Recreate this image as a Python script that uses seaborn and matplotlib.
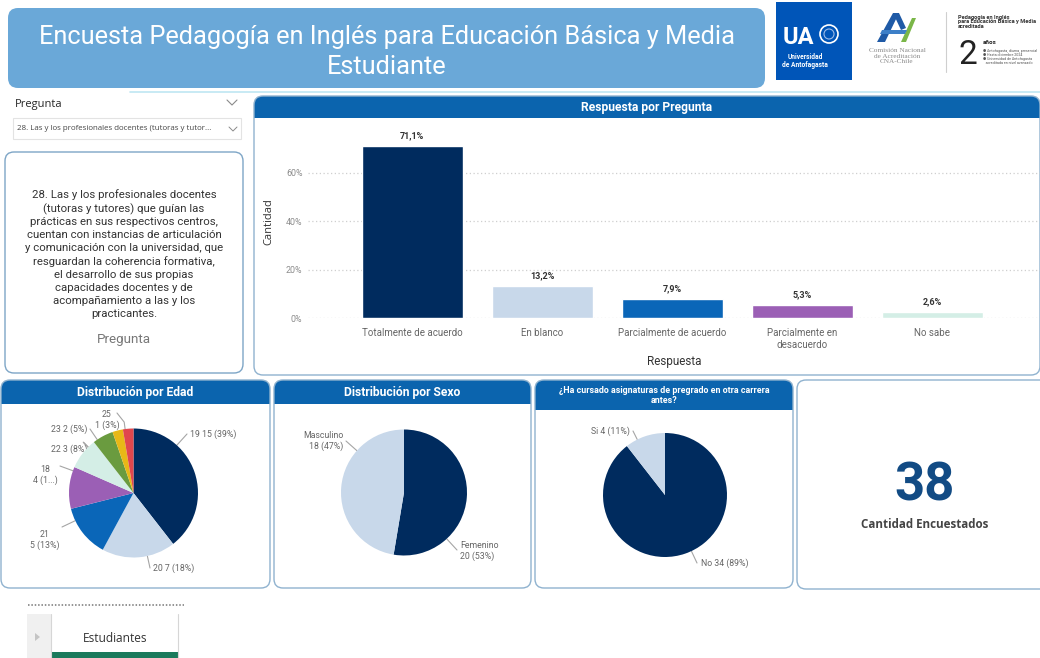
import numpy as np
import pandas as pd
import seaborn as sns
import matplotlib.pyplot as plt
from matplotlib.patches import FancyBboxPatch, Rectangle, Polygon, Circle

#%% Datos
respuestas = ['Totalmente de acuerdo', 'En blanco', 'Parcialmente de acuerdo',
              'Parcialmente en\ndesacuerdo', 'No sabe']
porcentajes = [71.1, 13.2, 7.9, 5.3, 2.6]
colores_resp = ['#002b5e', '#c8d8ea', '#0a66b8', '#9b5fb5', '#d4eee6']

edades = ['19', '20', '21', '18', '22', '23', '24', '25']
edad_cantidad = [15, 7, 5, 4, 3, 2, 1, 1]
edad_etiquetas = ['19 15 (39%)', '20 7 (18%)', '21\n5 (13%)', '18\n4 (1...)',
                  '22 3 (8%)', '23 2 (5%)', '', '25\n1 (3%)']
colores_edad = ['#002b5e', '#c8d8ea', '#0a66b8', '#9b5fb5', '#d4eee6',
                '#6a9b3f', '#e8b817', '#e1474d']

sexos = ['Femenino', 'Masculino']
sexo_cantidad = [20, 18]
sexo_etiquetas = ['Femenino\n20 (53%)', 'Masculino\n18 (47%)']
colores_sexo = ['#002b5e', '#c8d8ea']

carrera = ['No', 'Si']
carrera_cantidad = [34, 4]
carrera_etiquetas = ['No 34 (89%)', 'Si 4 (11%)']
colores_carrera = ['#002b5e', '#c8d8ea']

total_encuestados = 38
pregunta = ('28. Las y los profesionales docentes\n(tutoras y tutores) que guían las\n'
            'prácticas en sus respectivos centros,\ncuentan con instancias de articulación\n'
            'y comunicación con la universidad, que\nresguardan la coherencia formativa,\n'
            'el desarrollo de sus propias\ncapacidades docentes y de\n'
            'acompañamiento a las y los\npracticantes.')
pregunta_corta = '28. Las y los profesionales docentes (tutoras y tutor...'

#%% Estilo
sns.set_theme(style='white')
plt.rcParams['font.family'] = ['Roboto', 'DejaVu Sans']
SEGOE = ['Open Sans', 'DejaVu Sans']
AZUL = '#0b64ae'
BORDE = '#8fb2cf'

W, H = 1040, 658
fig = plt.figure(figsize=(W / 100, H / 100), dpi=100)
fig.patch.set_facecolor('white')


def caja(x0, y0, x1, y1):
    return [x0 / W, 1 - y1 / H, (x1 - x0) / W, (y1 - y0) / H]


bg = fig.add_axes([0, 0, 1, 1], zorder=0)
bg.set_xlim(0, W)
bg.set_ylim(H, 0)
bg.set_autoscale_on(False)
bg.axis('off')


def panel(x0, y0, x1, y1, titulo=None, alto=0, tam=8.7, borde=BORDE):
    bg.add_patch(FancyBboxPatch((x0, y0), x1 - x0, y1 - y0,
                                boxstyle='round,pad=0,rounding_size=9',
                                fc='white', ec='none', zorder=1))
    if titulo:
        bg.add_patch(FancyBboxPatch((x0, y0), x1 - x0, alto,
                                    boxstyle='round,pad=0,rounding_size=9',
                                    fc=AZUL, ec='none', zorder=2))
        bg.add_patch(Rectangle((x0, y0 + alto - 9), x1 - x0, 9, fc=AZUL, ec='none', zorder=2))
        bg.text((x0 + x1) / 2, y0 + alto / 2 + 0.5, titulo, ha='center', va='center',
                color='white', fontsize=tam, fontweight='bold', zorder=3, linespacing=1.1)
    bg.add_patch(FancyBboxPatch((x0, y0), x1 - x0, y1 - y0,
                                boxstyle='round,pad=0,rounding_size=9',
                                fc='none', ec=borde, lw=1, zorder=3))


#%% Encabezado
bg.add_patch(FancyBboxPatch((8, 8), 757, 80, boxstyle='round,pad=0,rounding_size=10',
                            fc='#6aa8d8', ec='none', zorder=1))
bg.text(387, 52, 'Encuesta Pedagogía en Inglés para Educación Básica y Media\nEstudiante',
        ha='center', va='center', color='white', fontsize=18.3, linespacing=1.3, zorder=2)

# logo UA
bg.add_patch(Rectangle((776, 2), 76, 78, fc='#0055b8', ec='none', zorder=1))
bg.text(798, 37, 'UA', ha='center', va='center', color='white', fontsize=17,
        fontweight='bold', zorder=2)
bg.add_patch(Circle((829, 34), 9, fc='none', ec='white', lw=1.2, zorder=2))
bg.add_patch(Circle((829, 34), 5, fc='none', ec='#9dbbe6', lw=0.8, zorder=2))
bg.text(805, 61, 'Universidad\nde Antofagasta', ha='center', va='center', color='white',
        fontsize=4.8, fontweight='bold', linespacing=1.0, zorder=2)

# logo CNA
bg.add_patch(Polygon([[877, 42], [893, 13], [899, 13], [885, 42]], fc='#1f5aa6', ec='none', zorder=2))
bg.add_patch(Polygon([[893, 13], [899, 13], [906, 28], [901, 30]], fc='#1f5aa6', ec='none', zorder=2))
bg.add_patch(Polygon([[901, 42], [912, 18], [916, 18], [906, 42]], fc='#7ab648', ec='none', zorder=2))
bg.add_patch(Polygon([[882, 30], [907, 30], [905, 34], [880, 34]], fc='#3d7fc8', ec='none', zorder=2))
bg.text(897, 56, 'Comisión Nacional\nde Acreditación\nCNA-Chile', ha='center', va='center',
        color='#8a8a8a', fontsize=5.2, linespacing=1.05, zorder=2, family=['Liberation Serif', 'DejaVu Serif'])

# acreditación
bg.plot([946, 946], [12, 72], color='#cfcfcf', lw=0.8, zorder=2)
bg.text(958, 22, 'Pedagogía en Inglés\npara Educación Básica y Media\nacreditada', ha='left',
        va='center', color='#333333', fontsize=4.1, fontweight='bold', linespacing=1.0, zorder=2)
bg.text(958, 55, '2', ha='left', va='center', color='#222222', fontsize=24, zorder=2)
bg.text(983, 42, 'años', ha='left', va='center', color='#222222', fontsize=4.5,
        fontweight='bold', zorder=2)
bg.text(983, 57, '● Antofagasta, diurna, presencial\n● Hasta diciembre 2024\n'
        '● Universidad de Antofagasta\n   acreditada en nivel avanzado', ha='left',
        va='center', color='#555555', fontsize=2.6, linespacing=1.1, zorder=2)

bg.plot([130, 1040], [92, 92], color='#bfe6f2', lw=1.2, zorder=1)

#%% Segmentador de pregunta
bg.text(15, 104, 'Pregunta', ha='left', va='center', color='#252525', fontsize=8, family=SEGOE)
bg.plot([227, 232, 237], [100, 105, 100], color='#8a8a8a', lw=0.8)
bg.add_patch(Rectangle((13, 118), 228, 21, fc='white', ec='#e3e3e3', lw=0.8, zorder=1))
bg.text(17, 129, pregunta_corta, ha='left', va='center', color='#444444', fontsize=5.7,
        zorder=2, family=SEGOE)
bg.plot([229, 233, 237], [127, 131, 127], color='#8a8a8a', lw=0.7, zorder=2)

panel(5, 152, 243, 373, borde='#7da5c6')
bg.text(124, 254, pregunta, ha='center', va='center', color='#333333', fontsize=8.2,
        linespacing=1.36, zorder=4)
bg.text(124, 340, 'Pregunta', ha='center', va='center', color='#777777', fontsize=9.6, zorder=4)

#%% Barras: Respuesta por Pregunta
panel(254, 96, 1040, 375, 'Respuesta por Pregunta', alto=22)
df_resp = pd.DataFrame({'Respuesta': respuestas, 'Porcentaje': porcentajes})
axb = fig.add_axes(caja(308, 125, 1040, 318), zorder=5)
axb.patch.set_alpha(0)
sns.barplot(data=df_resp, x='Respuesta', y='Porcentaje', hue='Respuesta',
            palette=colores_resp, width=0.777, saturation=1, legend=False, ax=axb)
axb.set_xlim(-0.8, 4.83)
axb.set_ylim(0, 79.6)
axb.set_yticks([0, 20, 40, 60])
axb.set_yticklabels(['0%', '20%', '40%', '60%'])
axb.yaxis.grid(True, color='#cfcfcf', linestyle=(0, (1, 2)), lw=0.9)
axb.set_axisbelow(True)
for s in axb.spines.values():
    s.set_visible(False)
axb.tick_params(axis='y', length=0, pad=4, labelsize=6.4, labelcolor='#8c8c8c')
axb.tick_params(axis='x', length=0, pad=7.5, labelsize=7, labelcolor='#666666')
for cont, v in zip(axb.containers, porcentajes):
    axb.bar_label(cont, labels=[f'{v:.1f}%'.replace('.', ',')], padding=4,
                  fontsize=6.5, fontweight='bold', color='#333333')
axb.set_xlabel('Respuesta', fontsize=8.4, color='#333333')
axb.xaxis.set_label_coords(0.5, -0.19)
axb.set_ylabel('Cantidad', fontsize=8, color='#333333', family=SEGOE)
axb.yaxis.set_label_coords(-0.046, 0.5)


#%% Tortas
def pastel(cx, cy, r, valores, colores, etiquetas, posiciones):
    ax = fig.add_axes(caja(cx - r, cy - r, cx + r, cy + r), zorder=5)
    cunas, _ = ax.pie(valores, colors=colores, startangle=90, counterclock=False,
                      wedgeprops=dict(linewidth=0))
    ax.set_xlim(-1, 1)
    ax.set_ylim(-1, 1)
    ax.axis('off')
    for cuna, texto, pos in zip(cunas, etiquetas, posiciones):
        if not texto:
            continue
        ex, ey, tx, ty, ha = pos
        ang = np.degrees(np.arctan2(cy - ey, ex - cx))
        medio = (cuna.theta1 + cuna.theta2) / 2
        ang = (ang - medio + 180) % 360 - 180 + medio
        ang = np.clip(ang, cuna.theta1 + 2, cuna.theta2 - 2)
        a = np.radians(ang)
        x0, y0 = cx + r * np.cos(a), cy - r * np.sin(a)
        x1, y1 = cx + (r + 7) * np.cos(a), cy - (r + 7) * np.sin(a)
        bg.plot([x0, x1, ex], [y0, y1, ey], color='#a5a5a5', lw=0.8, zorder=4)
        bg.text(tx, ty, texto, ha=ha, va='center', color='#666666', fontsize=6.3,
                multialignment='center' if ha == 'center' else ha, linespacing=1.25, zorder=4)


panel(1, 380, 270, 588, 'Distribución por Edad', alto=24)
pastel(133.5, 493, 64.5, edad_cantidad, colores_edad, edad_etiquetas,
       [(187, 434, 190, 434, 'left'), (150, 568, 153, 568, 'left'),
        (62, 527, 45, 540, 'center'), (60, 466, 45, 475, 'center'),
        (90, 449, 87, 449, 'right'), (90, 429, 87, 429, 'right'),
        None, (117, 413, 107, 420, 'center')])

panel(274, 380, 531, 588, 'Distribución por Sexo', alto=24)
pastel(404, 492.5, 63, sexo_cantidad, colores_sexo, sexo_etiquetas,
       [(457, 550, 460, 551, 'left'), (346, 441, 343, 441, 'right')])

panel(535, 380, 793, 588, '¿Ha cursado asignaturas de pregrado en otra carrera\nantes?',
      alto=30, tam=6.4)
pastel(665, 495, 62, carrera_cantidad, colores_carrera, carrera_etiquetas,
       [(697, 563, 701, 563, 'left'), (633, 431, 630, 431, 'right')])

#%% Tarjeta
panel(797, 380, 1052, 589)
bg.text(925, 486, str(total_encuestados), ha='center', va='center', color='#124b84',
        fontsize=38, fontweight='bold', zorder=4)
bg.text(925, 525, 'Cantidad Encuestados', ha='center', va='center', color='#444444',
        fontsize=8.4, fontweight='bold', zorder=4, family=SEGOE)

#%% Pestañas inferiores
bg.plot([28, 184], [605, 605], color='#777777', lw=1.1, linestyle=(0, (1, 1.2)))
bg.add_patch(Rectangle((27, 614), 24, 44, fc='#f0f0f0', ec='none'))
bg.add_patch(Polygon([[35, 633], [35, 641], [40, 637]], fc='#c4c4c4', ec='none'))
bg.add_patch(Rectangle((51, 614), 127, 44, fc='white', ec='none'))
bg.plot([51, 51], [614, 658], color='#d6d6d6', lw=0.8)
bg.plot([178, 178], [614, 658], color='#d6d6d6', lw=0.8)
bg.add_patch(Rectangle((52, 652), 126, 6, fc='#1a7a5c', ec='none'))
bg.text(115, 638, 'Estudiantes', ha='center', va='center', color='#333333', fontsize=8.6,
        family=SEGOE)

fig.savefig('out.png', dpi=100)
